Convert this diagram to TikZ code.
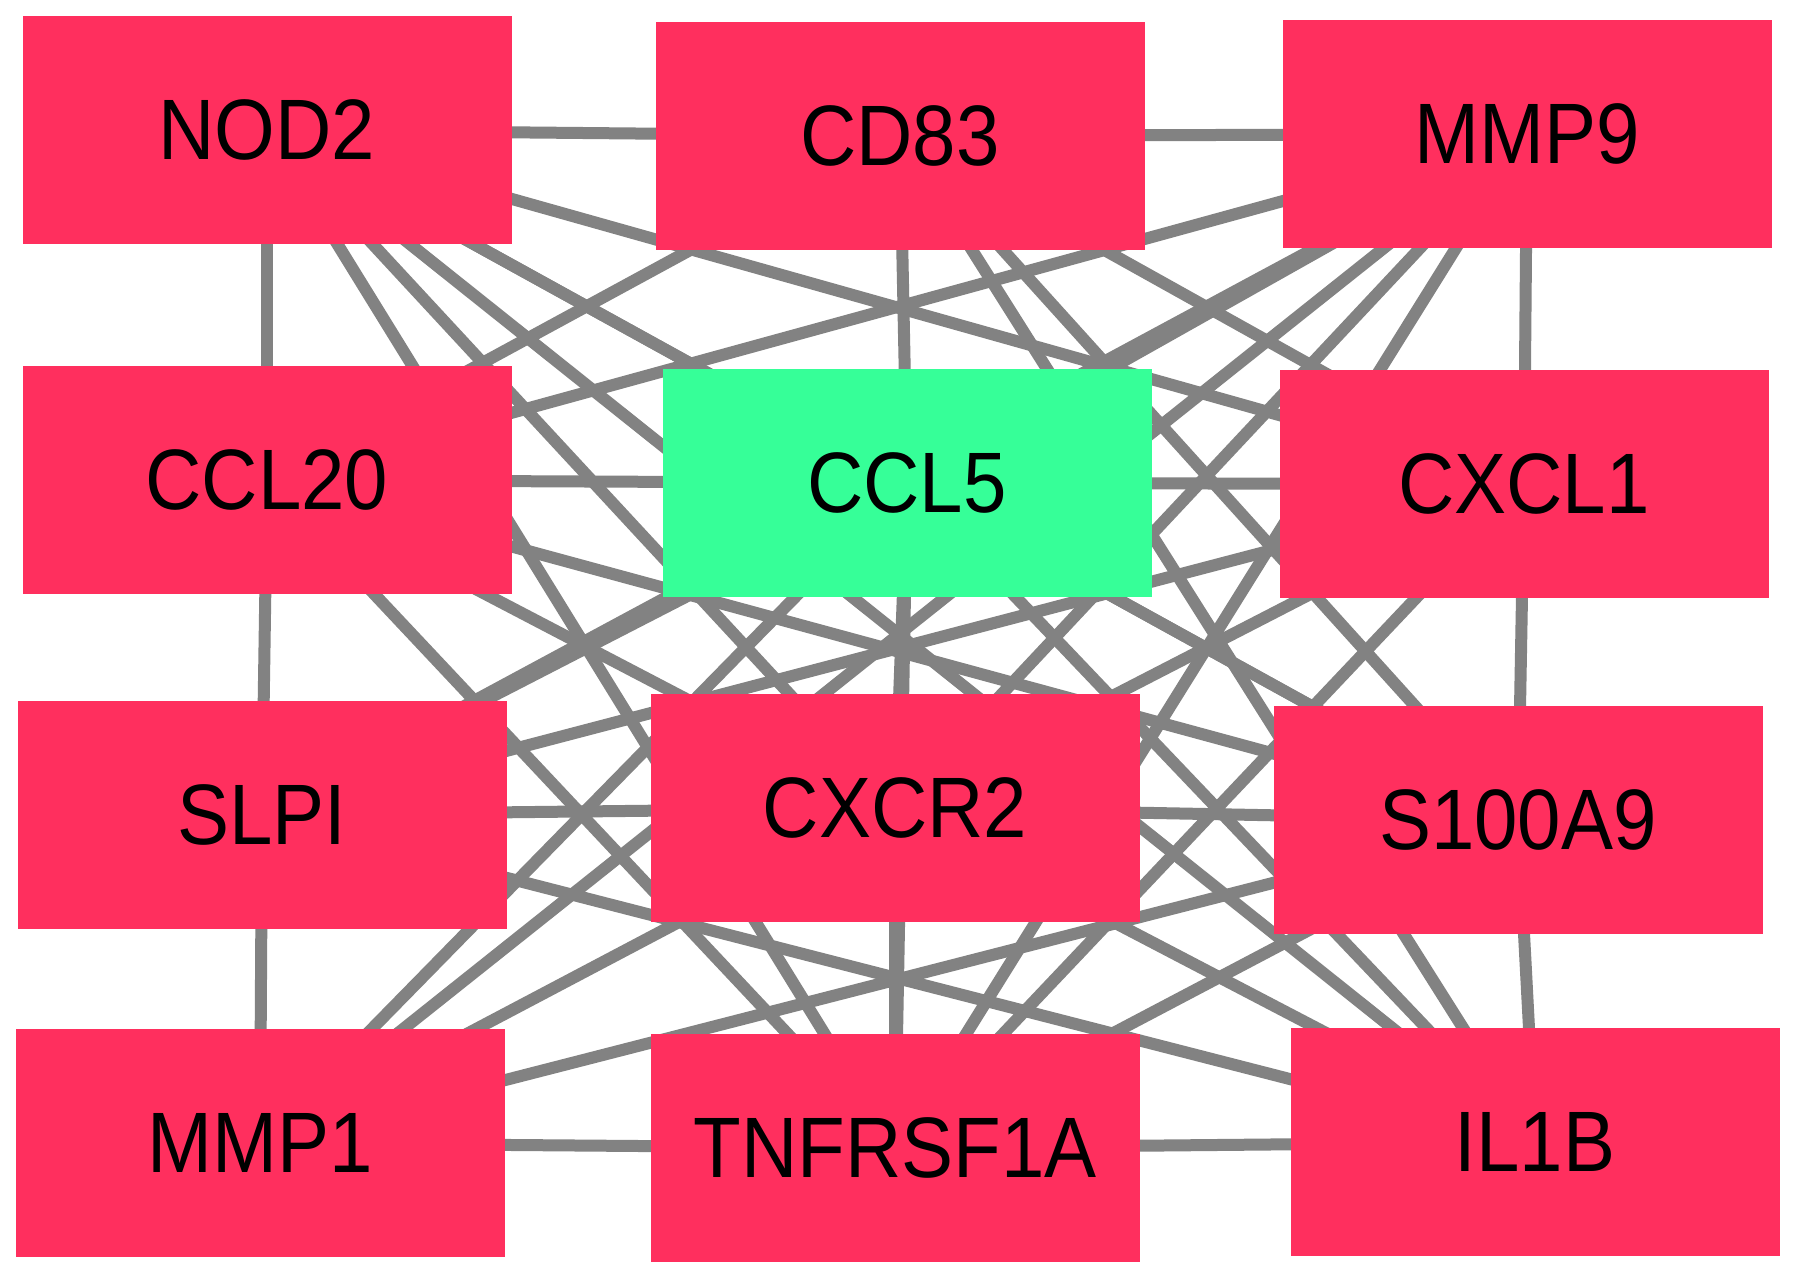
\documentclass[tikz,border=0pt]{standalone}
\usepackage{fontspec}
\setmainfont{Liberation Sans}
\pgfdeclarelayer{back}
\pgfdeclarelayer{bg}
\pgfsetlayers{back,bg,main}
\definecolor{nodered}{HTML}{FF2F5E}
\definecolor{nodegreen}{HTML}{36FF98}
\definecolor{edgegray}{HTML}{828282}
\newcommand{\genetext}[1]{\scalebox{1}[1.1]{#1}}
\begin{document}
\begin{tikzpicture}[x=1pt,y=-1pt,
  gene/.style={rectangle, fill=nodered, minimum width=489pt, minimum height=228pt,
    inner sep=0pt, font=\fontsize{78}{82}\selectfont, text=black},
  hub/.style={gene, fill=nodegreen},
  link/.style={draw=edgegray, line width=12pt}]
\begin{pgfonlayer}{back}
\fill[white] (0,0) rectangle (1795,1278);
\end{pgfonlayer}
\useasboundingbox (0,0) rectangle (1795,1278);
\node[gene] (nod2)   at (267,130)  {\genetext{NOD2}};
\node[gene] (cd83)   at (900,136)  {\genetext{CD83}};
\node[gene] (mmp9)   at (1527,134) {\genetext{MMP9}};
\node[gene] (ccl20)  at (267,480)  {\genetext{CCL20}};
\node[hub]  (ccl5)   at (907,483)  {\genetext{CCL5}};
\node[gene] (cxcl1)  at (1524,484) {\genetext{CXCL1}};
\node[gene] (slpi)   at (262,815)  {\genetext{SLPI}};
\node[gene] (cxcr2)  at (895,808)  {\genetext{CXCR2}};
\node[gene] (s100a9) at (1518,820) {\genetext{S100A9}};
\node[gene] (mmp1)   at (260,1143) {\genetext{MMP1}};
\node[gene] (tnf)    at (895,1148) {\genetext{TNFRSF1A}};
\node[gene] (il1b)   at (1535,1142) {\genetext{IL1B}};
\begin{pgfonlayer}{bg}
\foreach \a/\b in {nod2/cd83, cd83/mmp9, nod2/ccl20, nod2/ccl5, nod2/cxcl1, nod2/cxcr2,
  nod2/tnf, nod2/il1b, nod2/s100a9,
  cd83/ccl20, cd83/ccl5, cd83/cxcl1, cd83/s100a9, cd83/il1b,
  mmp9/ccl20, mmp9/ccl5, mmp9/slpi, mmp9/mmp1, mmp9/cxcr2, mmp9/tnf, mmp9/cxcl1,
  ccl20/ccl5, ccl20/tnf, ccl20/s100a9, ccl20/cxcr2, ccl20/slpi,
  ccl5/cxcl1, ccl5/cxcr2, ccl5/mmp1, ccl5/il1b, ccl5/s100a9, ccl5/slpi, ccl5/tnf,
  cxcl1/slpi, cxcl1/tnf, cxcl1/cxcr2, cxcl1/s100a9,
  cxcr2/s100a9, cxcr2/il1b, cxcr2/slpi, cxcr2/tnf, cxcr2/mmp1,
  s100a9/il1b, s100a9/tnf, s100a9/mmp1,
  slpi/il1b, slpi/mmp1, mmp1/tnf, tnf/il1b}
  \draw[link] (\a.center) -- (\b.center);
\end{pgfonlayer}
\end{tikzpicture}
\end{document}
